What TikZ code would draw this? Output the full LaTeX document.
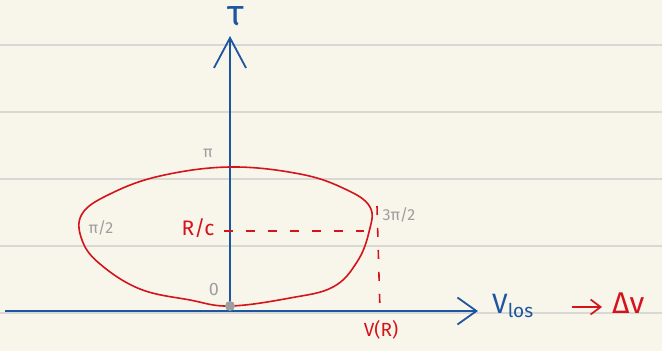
\documentclass[tikz,border=0pt]{standalone}
\usepackage{fontspec}
\setmainfont{Fira Sans}
\usepackage{tikz}
\usetikzlibrary{positioning, arrows.meta}
\definecolor{PenBlue}{HTML}{1D55A0}
\definecolor{PenRed}{HTML}{D4131B}
\definecolor{PenGray}{HTML}{9E9E9E}
\definecolor{Paper}{HTML}{F8F6EB}
\definecolor{RuleGray}{HTML}{D8D8D4}

\begin{document}
\begin{tikzpicture}[
  x=1pt, y=-1pt,
  axis/.style={PenBlue, line width=1.8pt},
  curve/.style={PenRed, line width=1.6pt},
  guide/.style={PenRed, line width=1.6pt, dash pattern=on 9pt off 13pt},
  pen/.style={font=\fontsize{28}{28}\selectfont, inner sep=0pt},
  note/.style={PenGray, font=\fontsize{16}{16}\selectfont, inner sep=0pt},
  redlabel/.style={PenRed, font=\fontsize{21}{21}\selectfont, inner sep=0pt}
]
\fill[Paper] (0,0) rectangle (662,351);
\useasboundingbox (0,0) rectangle (662,351);
\foreach \ry in {45,112,179,246,313}
  \draw[RuleGray, line width=1.2pt] (0,\ry) -- (662,\ry);

% axes
\coordinate (o) at (230,306);
\coordinate (xstart) at (5,311);
\coordinate (xend) at (478,311);
\coordinate (ystart) at (230,311);
\coordinate (yend) at (230,36);
\draw[axis, -{Straight Barb[length=19pt, width=27pt, line width=1.8pt]}] (xstart) -- (xend);
\draw[axis, -{Straight Barb[length=30pt, width=32pt, line width=1.8pt]}] (ystart) -- (yend);
\node[pen, PenBlue, font=\fontsize{36}{36}\selectfont] (tau) at (236,16) {τ};
\node[pen, PenBlue, anchor=west] (vlos) at (492,306) {V\raisebox{-4pt}{\fontsize{19}{19}\selectfont los}};
\node[redlabel, anchor=west, font=\fontsize{30}{30}\selectfont] (dv) at (612,303) {Δv};
\coordinate (rstart) at (572,307);
\coordinate (rend) at (602,307);
\draw[PenRed, line width=1.7pt, -{Straight Barb[length=10pt, width=15pt, line width=1.7pt]}] (rstart) -- (rend);

% orbit
\draw[curve] plot[smooth cycle, tension=0.65] coordinates {
  (230,306) (290,298) (333,287) (357,262) (369,232) (370,207)
  (345,189) (300,174) (230,167) (160,176) (110,194) (82,214)
  (82,240) (100,264) (140,289) (190,300)};
\fill[PenGray] (o) circle (5pt);

% labels
\node[note] (pi) at (208,153) {π};
\node[note] (pihalf) at (101,228) {π/2};
\node[note] (threepi) at (399,215) {3π/2};
\node[note, font=\fontsize{18}{18}\selectfont] (zero) at (214,289) {0};
\node[redlabel] (rc) at (198,228) {R/c};
\coordinate (rcstart) at (224,231);
\coordinate (rcend) at (364,231);
\draw[guide] (rcstart) -- (rcend);
\node[redlabel, font=\fontsize{19}{19}\selectfont] (vr) at (381,330) {V(R)};
\coordinate (vrtop) at (377,206);
\coordinate (vrbot) at (380,311);
\draw[guide] (vrtop) -- (vrbot);
\end{tikzpicture}
\end{document}
